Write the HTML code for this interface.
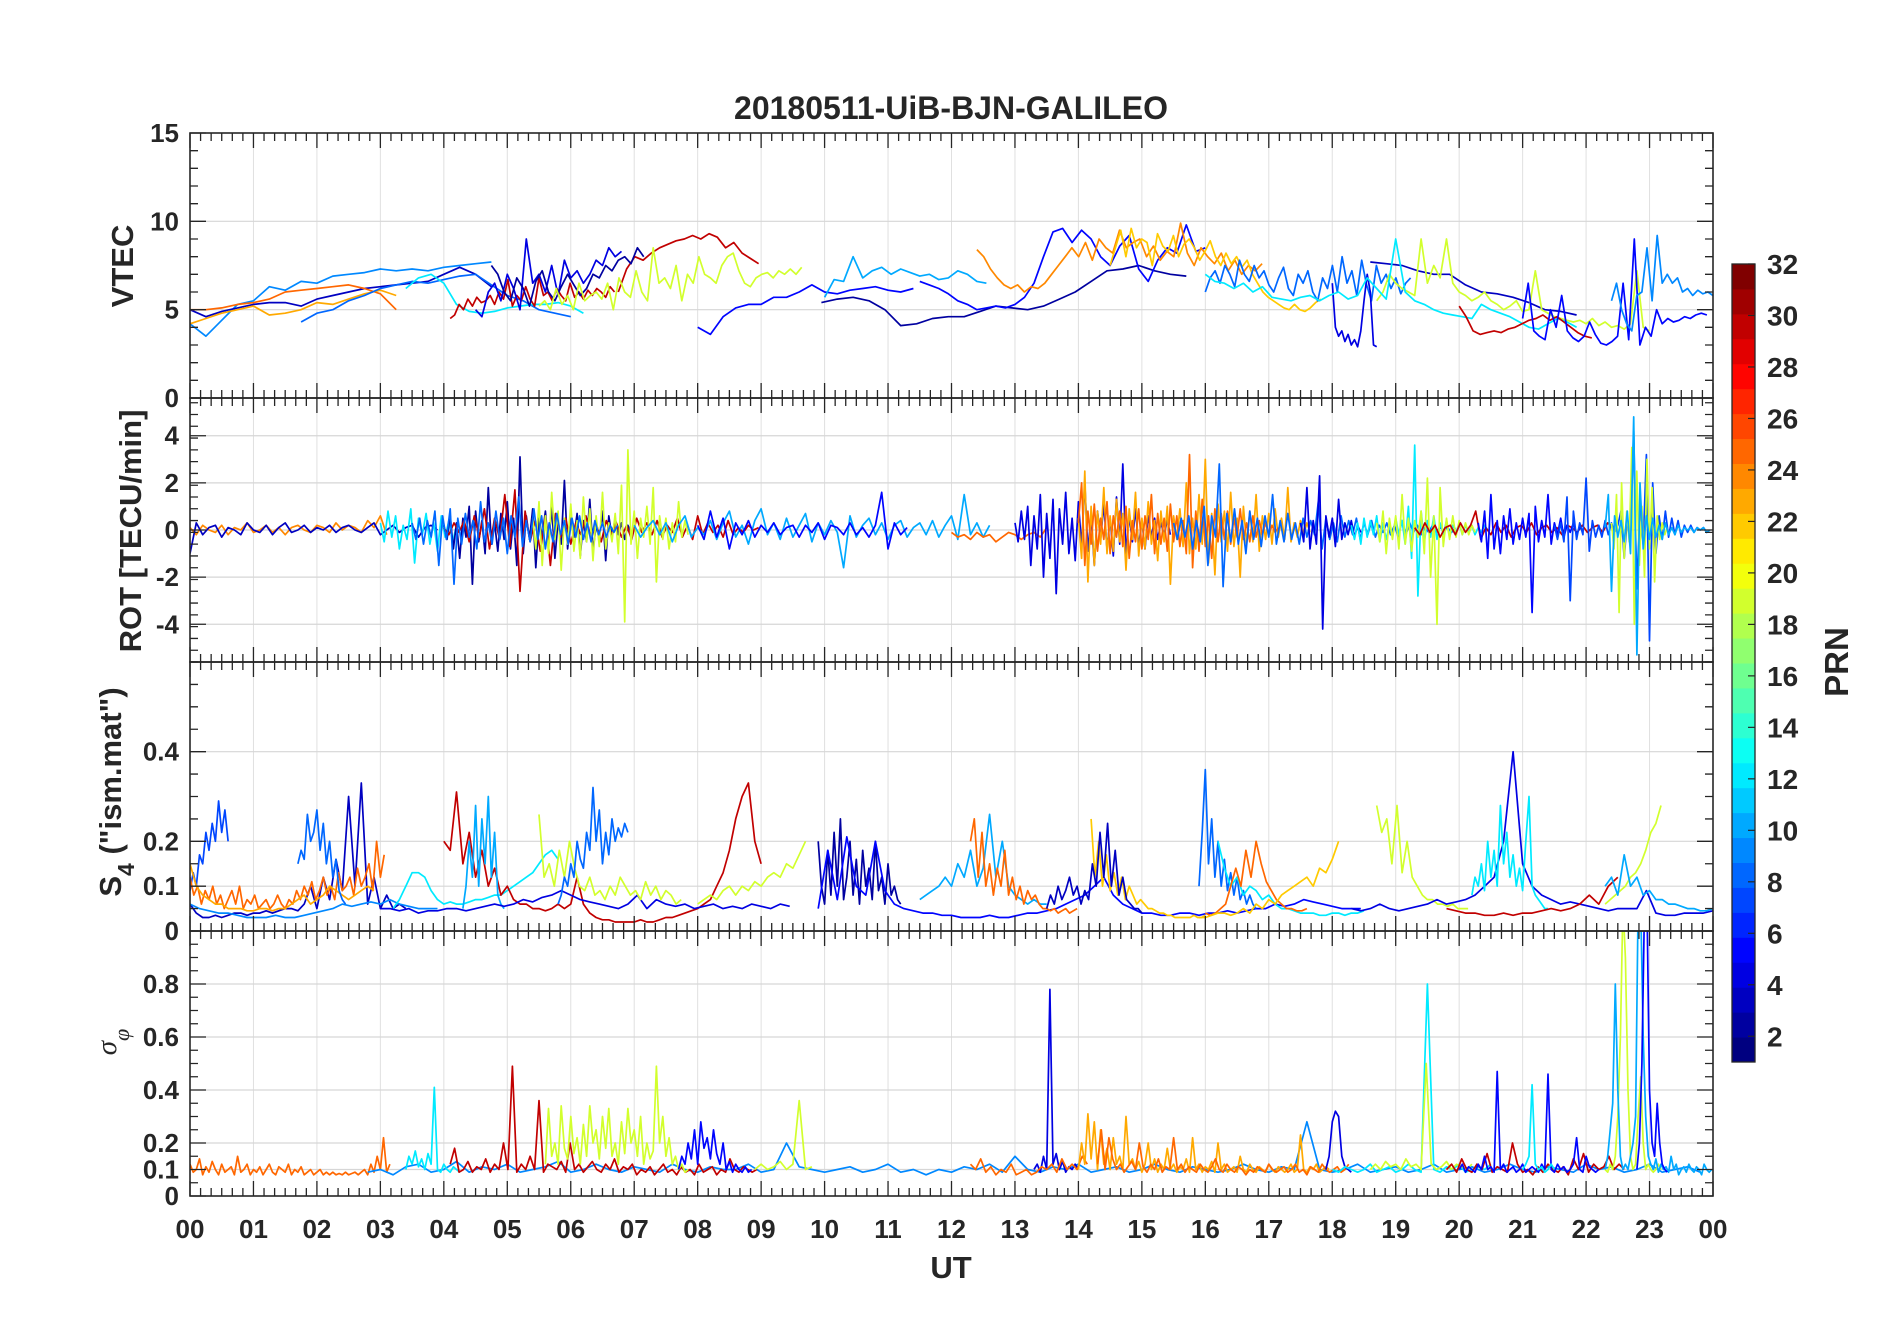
<!DOCTYPE html>
<html><head><meta charset="utf-8"><style>
html,body{margin:0;padding:0;background:#fff;}
svg{display:block;font-family:"Liberation Sans",Arial,sans-serif;}
.tk{font-size:26px;font-weight:bold;fill:#262626;}
.lb{font-size:31px;font-weight:bold;fill:#262626;}
</style></head><body>
<svg id="fig" width="1902" height="1330" viewBox="0 0 1902 1330" xmlns="http://www.w3.org/2000/svg">
<rect x="0" y="0" width="1902" height="1330" fill="#fff"/>
<text x="951" y="119" text-anchor="middle" class="lb" style="font-size:32px">20180511-UiB-BJN-GALILEO</text>
<text class="lb" transform="translate(133,266) rotate(-90)" text-anchor="middle">VTEC</text>
<text class="lb" transform="translate(141,531) rotate(-90)" text-anchor="middle">ROT [TECU/min]</text>
<text class="lb" transform="translate(121,792) rotate(-90)" text-anchor="middle">S<tspan baseline-shift="sub" font-size="23">4</tspan> ("ism.mat")</text>
<text transform="translate(116,1042) rotate(-90)" text-anchor="middle" style="font-family:'Liberation Serif',serif;font-style:italic;font-size:29px;fill:#262626">σ<tspan baseline-shift="sub" font-size="22">φ</tspan></text>
<text x="951" y="1278" text-anchor="middle" class="lb">UT</text>
<text class="lb" transform="translate(1848,662) rotate(-90)" text-anchor="middle" style="font-size:33px">PRN</text>
<g id="grid"></g><g id="series"></g><g id="axes"></g><g id="cbar"></g>
</svg>
<script>
// ---------- DATA ----------
const hourLabels=["00","01","02","03","04","05","06","07","08","09","10","11","12","13","14","15","16","17","18","19","20","21","22","23","00"];
const vtecTicks=[0,5,10,15];
const rotTicks=[-4,-2,0,2,4];
const s4Ticks=[0,0.1,0.2,0.4];
const sigTicks=[0,0.1,0.2,0.4,0.6,0.8];
const cbarTicks=[2,4,6,8,10,12,14,16,18,20,22,24,26,28,30,32];

const vtecPrn=[9,3,25,23,8,12,30,30,4,2,19,5,10,2,5,24,22,8,4,3,19,12,30,5,9];
const vtecStart=[0,0,0,0,1.75,3.4,4.1,6.75,4.5,4.75,5.5,8.0,10.0,9.95,11.5,12.4,14.5,16.0,18.0,18.6,18.7,16.0,20.0,21.0,22.4];
const vtecStep=[0.25,0.25,0.25,0.25,0.25,0.2,0.07,0.13,0.1,0.1,0.09,0.2,0.15,0.25,0.15,0.107,0.083,0.077,0.05,0.25,0.1,0.15,0.11,0.088,0.08];
const vtecVals=[
[4.2,3.5,4.4,5.3,5.5,6.3,6.1,6.6,6.5,6.9,7.0,7.1,7.3,7.2,7.3,7.2,7.4,7.5,7.6,7.7],
[5.0,4.6,4.9,5.1,5.3,5.4,5.4,5.2,5.6,5.8,6.0,6.2,6.3,6.4,6.5,6.6,7.0,7.4,7.0,6.3],
[5.0,5.0,5.1,5.3,5.4,5.6,6.0,6.1,6.2,6.3,6.4,6.2,5.9,5.0],
[4.2,4.5,4.8,5.0,5.2,4.7,4.8,5.0,5.4,5.3,5.6,5.9,6.1,5.8],
[4.3,4.8,5.0,5.5,5.8,6.2,6.4,6.6,6.5,6.7,6.9,7.0,6.4,5.8,5.5,5.0,4.8,4.6],
[6.2,6.8,7.0,6.5,5.3,4.9,4.8,4.9,5.1,5.2,5.3,5.3,5.4,5.2,4.8],
[4.5,4.7,5.3,5.0,5.6,5.2,5.7,5.4,5.5,5.8,5.3,6.0,5.6,6.7,5.2,5.8,5.5,6.3,5.6,5.2,6.8,5.8,6.0,5.5,6.2,5.8,5.5,6.5,5.7,6.0,5.6,6.1,5.8,6.2,6.0,5.7,6.3,6.0],
[6.0,7.3,8.0,7.8,8.2,8.5,8.7,8.9,9.0,9.2,9.0,9.3,9.1,8.5,8.8,8.2,7.9,7.6],
[5.0,4.6,6.0,6.5,5.5,7.0,6.2,5.0,9.0,6.5,7.0,6.0,7.5,5.8,7.8,6.8,7.2,6.5,7.0,7.8,7.5,8.5,8.0,8.3],
[7.5,7.0,6.0,5.5,6.8,6.2,5.2,6.6,7.2,6.0,5.5,6.3,7.0,6.4,5.8,6.2,7.0,6.8,7.5,7.2,7.8,8.0,7.6,8.5,8.0],
[5.2,5.5,5.0,6.2,5.3,5.8,5.0,6.5,5.5,5.8,6.0,5.6,6.5,5.0,6.8,6.0,5.7,7.2,6.0,5.5,8.5,6.5,6.8,6.2,7.5,5.5,7.0,6.5,8.0,7.0,6.8,6.5,7.5,8.0,8.2,7.2,6.5,6.3,6.8,7.0,7.1,6.8,7.2,7.0,7.3,7.0,7.4],
[4.0,3.6,4.6,5.1,5.3,5.3,5.7,5.7,6.0,6.4,6.0,5.9,6.1,6.2,6.3,6.1,6.0,6.2],
[5.7,6.7,6.6,8.0,6.8,7.2,7.4,7.0,7.3,7.1,6.9,7.0,6.7,6.8,7.2,7.0,6.6,6.5],
[5.4,5.6,5.7,5.5,5.0,4.1,4.2,4.5,4.6,4.6,4.9,5.2,5.1,5.0,5.2,5.6,6.0,6.6,7.2,7.3,7.5,7.2,7.0,6.9],
[6.6,6.4,6.2,5.9,5.5,5.3,5.0,5.1,5.2,5.1,5.3,5.7,6.5,8.0,9.4,9.6,8.8,9.5,9.0,8.0,7.5,8.6,9.2,7.3,6.6,7.8,8.5,8.2,9.8,8.3,8.5],
[8.4,8.0,7.3,6.8,6.4,6.2,6.4,6.0,6.3,6.2,6.5,7.0,7.5,8.0,8.5,8.0,8.8,7.8,9.0,8.5,8.2,9.5,8.5,8.8,9.0,8.0,8.6,7.8,8.3,8.0,9.9,8.2,7.5,8.5,8.0,7.6,8.2,7.2,7.8,7.0,7.5,7.2,7.6],
[7.5,8.5,9.5,8.0,9.6,8.5,9.0,8.8,7.5,9.3,8.6,8.3,9.2,8.0,8.7,9.0,8.5,7.8,8.3,8.9,8.0,7.5,8.2,7.6,8.0,7.4,7.8,7.0,6.5,6.0,5.7,5.5,5.3,5.1,5.0,5.3,5.0,4.9,5.1,5.4,5.6],
[6.0,6.8,7.2,6.5,7.5,7.0,6.3,7.8,7.0,6.6,7.5,6.8,7.2,6.4,6.0,6.8,7.4,6.2,5.8,7.0,6.5,7.2,6.0,5.5,6.8,6.2,7.5,6.0,8.0,6.5,7.2,5.8,7.8,6.4,5.5,7.5,6.5,7.0,6.2,6.8,5.9,6.5,6.8],
[6.5,4.0,3.5,3.8,3.2,3.6,3.0,3.3,2.9,3.8,5.5,7.0,6.0,3.0,2.9],
[7.7,7.6,7.5,7.2,7.0,7.0,6.4,6.0,5.9,5.7,5.4,5.0,4.9,4.7],
[5.5,6.0,7.0,6.5,6.2,6.0,5.8,9.0,6.5,7.5,6.8,9.0,6.5,6.0,5.8,5.5,5.7,6.0,5.5,5.3,5.0,5.2,5.5,4.9,5.0,7.2,5.0,4.8,4.6,4.5,4.4,4.3,4.4,4.2,4.5,4.1,4.3,4.0,4.1,3.9,4.2,7.2,4.0,3.8],
[7.0,6.6,6.5,6.2,6.5,6.0,6.3,5.7,5.6,5.5,5.7,5.8,5.5,5.8,6.0,5.6,5.8,6.8,6.2,5.6,9.0,6.0,5.5,5.3,5.0,4.8,4.7,4.6,4.5,5.3,5.0,4.8,4.6,4.3,4.0,3.9,4.2,4.5,4.3,4.0],
[5.2,4.6,3.8,3.6,3.7,3.8,3.7,3.9,4.0,4.2,4.4,4.5,4.7,4.4,4.6,4.3,4.0,3.7,3.5,3.4],
[4.5,6.5,3.8,3.5,3.3,5.0,4.0,5.8,3.8,3.4,3.2,3.5,4.3,3.6,3.1,3.0,3.2,3.5,6.5,3.3,9.0,3.0,4.0,3.5,5.0,4.2,4.5,4.3,4.4,4.6,4.5,4.7,4.8,4.7],
[5.5,6.5,5.0,4.2,3.8,5.8,6.0,8.5,5.5,9.2,6.5,7.0,6.5,6.8,6.0,6.2,5.8,6.1,5.9,6.0,5.8]
];

const rotPrn=[24,3,12,2,30,19,8,10,5,25,4,23,25,8,4,12,19,30,5,7,19,10];
const rotStart=[0,0,3.0,4.0,4.0,5.4,3.5,7.0,8.0,12.0,13.0,14.0,14.0,15.5,17.5,18.3,18.7,19.3,20.3,21.5,22.4,22.3];
const rotStep=[0.1,0.1,0.06,0.05,0.08,0.05,0.06,0.1,0.1,0.1,0.05,0.05,0.05,0.06,0.05,0.05,0.05,0.08,0.05,0.05,0.04,0.05];
const rotVals=[
[0.1,-0.2,0.2,0,-0.1,0.2,-0.2,0.1,0,0.3,-0.1,0,0.2,-0.1,0.1,-0.2,0.1,0.2,0,-0.1,0.2,0.1,-0.1,0.3,0,0.2,0.1,-0.1,0.4,0.1,0.6,-0.2],
[-1.0,0.3,-0.2,0.1,0.2,-0.3,0.1,0,-0.2,0.3,0,-0.1,0.2,-0.2,0.1,0.3,-0.1,0,0.2,-0.1,0.1,0,0.2,-0.1,0.1,0.2,0,-0.1,0.1,0.3,-0.2,0,0.2,-0.1,0.1,0.2,-0.3,0.1,0.2,0],
[0.3,-0.5,0.8,-0.3,0.6,-0.8,0.2,-0.4,0.9,-1.4,0.5,-0.2,0.7,-0.6,0.3,-0.9,0.6,-0.3,0.4,-0.5,0.2],
[0.2,-0.4,0.6,-0.8,0.3,-1.2,0.5,-0.3,1.0,-2.3,0.8,-0.5,0.4,-1.0,1.8,-0.6,0.3,-0.9,0.7,-0.4,1.2,-0.8,0.5,-1.5,3.1,-1.0,0.6,-0.4,0.9,-1.6,0.5,-0.3,0.8,-0.7,1.0,-1.2,0.4,-0.6,2.1,-0.8,0.5,-0.3,0.7,-1.1,0.4,-0.5,1.3,-0.9,0.2,-0.4,0.8,-1.3,0.6,-0.3,0.5,-0.2,0.3,-0.4,0.2,-0.1],
[0.1,-0.2,0.3,-0.1,0.4,-0.5,0.6,-0.3,0.9,-0.8,0.5,-0.4,1.5,-0.7,1.7,-2.6,0.8,-0.5,0.4,-0.9,0.6,-1.5,0.7,-0.3,0.5,-0.6,0.3,-0.2,0.6,-0.4,0.3,-0.5,0.4,-0.2,0.3,-0.3,0.2,-0.4,0.5,-0.1,0.3,-0.2,0.4,-0.3,0.2,-0.1,0.5,-0.3,0.2,-0.4,0.6,-0.2,0.3,-0.1,0.2,-0.3,0.4,-0.2,0.1,-0.1,0.2,0,0.1],
[0.5,-0.8,1.2,-1.5,0.6,-1.0,1.6,-0.4,0.8,-1.7,0.5,-0.6,1.1,-0.9,0.4,-1.2,1.4,-0.5,0.9,-1.3,0.6,-0.7,1.6,-0.8,0.3,-0.5,0.7,-1.0,1.9,-3.9,3.4,-0.6,0.8,-1.2,0.5,-0.3,1.0,-0.6,1.8,-2.2,0.6,-0.4,0.5,-0.8,0.3,-0.5,1.2,-0.3,0.4,-0.2],
[0.3,-0.4,0.5,-0.6,0.4,-0.3,0.8,-1.5,0.6,-0.4,0.9,-2.3,0.5,-0.6,0.7,-0.3,0.4,-0.8,1.2,-0.5,0.3,-0.6,0.8,-0.4,0.5,-1.0,0.6,-0.3,1.4,-0.7,0.4,-0.5,0.9,-0.4,0.6,-0.8,0.3,-0.5,0.7,-0.2,0.4,-0.6,0.5,-0.3,0.6,-0.4,0.3,-0.5,0.4,-0.2,0.3,-0.3,0.2,-0.1,0.2],
[0.2,-0.3,0.1,0.4,-0.2,0.3,-0.5,0.2,0.6,-0.3,0.1,-0.2,0.4,-0.4,0.3,0.8,-0.3,0.2,-0.6,0.4,0.9,-0.2,0.3,-0.4,0.5,-0.3,0.2,0.7,-0.5,0.3,-0.2,0.4,-0.1,-1.6,0.6,-0.3,0.2,0.5,-0.2,0.3,-0.4,0.2,0.4,-0.3,0.1,0.3,-0.2,0.4,-0.3,0.2,0.6,-0.4,1.5,-0.2,0.3,-0.3,0.2],
[0.2,-0.4,0.8,-0.3,0.5,-0.8,0.3,-0.2,0.4,-0.3,0.2,-0.1,0.3,-0.2,0.1,0.2,-0.3,0.2,-0.1,0.3,-0.4,0.2,0.1,-0.2,0.3,-0.2,0.1,-0.3,0.2,1.6,-0.8,0.3,-0.2,0.1],
[-0.1,-0.3,-0.2,-0.4,-0.1,-0.3,-0.2,-0.5,-0.3,-0.1,-0.2,-0.4,-0.2,-0.1,-0.3,0.1],
[0.3,-0.5,0.8,-0.4,1.0,-1.5,0.6,-0.8,1.5,-2.0,0.7,-1.2,1.3,-2.7,0.9,-0.6,1.6,-1.0,0.5,-1.3,1.2,-0.7,2.0,-0.9,0.6,-1.5,0.8,-0.4,1.1,-0.8,0.5,-1.1,1.4,-0.6,2.8,-1.0,0.6,-0.5,0.9,-0.7,0.4,-0.8,0.6,-0.3,0.5,-0.4,0.3,-0.2,0.4,-0.2],
[0.5,-1.2,2.5,-2.2,1.0,-1.5,0.8,-0.6,1.8,-1.0,0.6,-0.9,1.3,-0.5,0.7,-1.7,0.9,-0.4,1.6,-1.1,0.5,-0.8,1.2,-0.6,0.4,-1.3,0.8,-0.5,1.0,-2.3,0.6,-0.4,0.9,-0.7,2.0,-1.0,0.5,-0.8,1.5,-0.6,3.0,-1.4,0.7,-1.9,1.1,-0.5,0.8,-0.9,1.6,-0.7,0.5,-2.0,1.0,-0.6,0.8,-0.5,1.5,-0.9,0.6,-0.4,0.7,-0.6,0.9,-0.3,0.5,-0.4,1.8,-0.5,0.3,-0.3,0.4,-0.2,0.3,-0.1],
[0.3,2.0,-1.5,0.8,-0.6,1.1,-0.9,0.5,-0.4,1.2,-1.0,0.6,-0.3,0.8,-0.7,1.0,-1.2,0.4,-0.5,0.9,-0.8,0.6,-0.4,1.5,-1.0,0.7,-0.6,0.5,-0.9,1.1,-0.5,0.6,-0.7,0.4,-1.0,3.2,-1.6,0.8,-0.9,1.3,-0.7,0.6,-1.2,0.9,-0.5,0.7,-0.4,0.8,-0.6,0.5,-0.3,0.9,-0.4,0.3,-0.5,0.6,-0.3,0.4,-0.2,0.3,-0.2,0.2,-0.1,0.1],
[0.3,-0.4,0.5,-0.3,0.6,-0.8,0.4,-0.5,1.0,-1.5,0.6,-0.3,2.8,-2.4,0.7,-0.5,0.9,-0.6,0.4,-1.0,0.8,-0.4,0.5,-0.7,0.6,-0.3,1.5,-0.6,0.4,-0.5,0.7,-0.4,0.3,-0.6,0.5,-0.3,0.4,-0.2,1.2,-0.8,0.5,-0.4,0.3,-0.5,0.6,-0.3,0.4,-0.2,0.5,-0.4,0.3,-0.2,0.4,-0.3,0.2,-0.1,0.3,-0.2,0.2,-0.3,0.4,-0.2,0.3,-0.1,0.2,-0.2,0.1,-0.1,0.2,-0.1,0.1,0,0.1,-0.1,0.1],
[0.3,-0.5,1.8,-0.8,0.4,-0.6,2.3,-4.2,0.6,-0.3,0.5,-0.7,1.3,-0.4,0.3,-0.2,0.4,-0.3,0.2,-0.1],
[0.2,-0.4,0.3,-0.6,0.5,-0.3,0.4,-0.2,0.6,-0.5,0.3,-0.4,0.2,-0.3,0.5,-0.2,0.4,-0.6,1.0,-1.2,3.6,-2.8,0.8,-0.5,0.4,-0.3,0.6,-0.4,0.3,-0.2,0.4,-0.3,0.2,-0.1,0.3,-0.2,0.2,-0.1,0.2,-0.2,0.1,-0.1,0.2,0],
[0.3,-0.5,0.8,-1.0,0.5,-0.4,0.6,-0.8,1.5,-0.6,0.5,-0.9,0.4,-0.3,0.8,-1.0,2.2,-2.0,0.6,-4.0,1.8,-0.7,0.5,-0.4,0.6,-0.3,0.4,-0.2,0.3,-0.2,0.2,-0.1],
[0.1,-0.2,0.3,-0.1,0.2,-0.3,0.1,0.2,-0.2,0.3,-0.1,0.2,0.8,-0.4,0.1,-0.2,0.3,-0.1,0.2,-0.3,0.1,0.2,-0.1,0.3,-0.2,0.1,0.2,-0.1,0.1,-0.2,0.2,0.1,-0.1,0.2,-0.1,0.1,0.2,-0.1,0.3,0.1],
[0.3,-0.5,0.8,-1.2,1.5,-0.8,0.4,-1.0,0.6,-0.4,0.9,-0.6,0.3,-0.4,0.5,-0.3,0.7,-3.5,1.0,-0.5,0.4,-0.3,1.5,-0.6,0.3,-0.2,0.5,-0.3,0.2,-0.1,0.3,-0.2,0.1,0],
[0.2,-0.4,0.3,-0.5,1.4,-3.0,0.8,-0.4,0.3,-0.2,2.2,-0.9,0.4,-0.3,0.2,-0.3,0.4,-0.2,0.3,-0.1,0.2,0.8,-1.2,0.5,-0.3,4.2,-2.5,1.0,-0.6,3.2,-4.7,2.0,-1.0,0.6,-0.4,0.8,-0.3,0.5,-0.2,0.4,-0.3,0.2,-0.1,0.2,-0.1,0.1,0,0.1,-0.1,0],
[0.3,-0.8,1.5,-3.5,2.0,-1.2,0.8,-0.5,3.5,-4.0,2.5,-1.5,1.0,-2.0,3.0,-0.8,1.8,-2.2,0.6,-0.4,0.3,-0.2,0.1],
[0.1,1.5,-2.6,0.6,-0.3,0.4,-0.5,0.8,-1.0,4.8,-5.3,2.0,-0.8,0.6,-0.4,0.5,-0.3,0.2,-0.4,0.3,-0.2,0.1,-0.2,0.2,-0.1,0.1,0,0.1,-0.1,0.1,0,0.1,-0.1,0]
];

const s4Prn=[3,7,25,23,9,8,12,30,10,4,19,8,19,2,5,10,25,22,3,8,12,25,22,19,4,12,30,19,10];
const s4Start=[0,0,0,0,0,1.7,3.2,4.0,4.3,3.0,5.5,5.8,8.0,9.9,9.9,11.5,12.3,14.2,13.5,15.9,16.2,16.0,15.9,18.7,18.3,20.2,19.8,22.3,22.3];
const s4Step=[0.1,0.05,0.06,0.1,0.15,0.05,0.1,0.1,0.05,0.15,0.08,0.05,0.1,0.05,0.15,0.1,0.06,0.06,0.06,0.05,0.1,0.08,0.1,0.08,0.15,0.05,0.15,0.08,0.1];
const s4Vals=[
[0.06,0.04,0.03,0.03,0.035,0.03,0.035,0.04,0.04,0.035,0.04,0.04,0.045,0.04,0.045,0.05,0.05,0.045,0.06,0.1,0.05,0.12,0.07,0.16,0.09,0.3,0.1,0.33,0.06,0.12,0.05,0.08,0.05,0.06,0.05],
[0.09,0.13,0.1,0.17,0.15,0.22,0.18,0.24,0.2,0.29,0.22,0.27,0.2],
[0.12,0.08,0.1,0.06,0.09,0.07,0.1,0.06,0.08,0.05,0.07,0.09,0.06,0.1,0.05,0.07,0.06,0.08,0.05,0.06,0.07,0.05,0.06,0.08,0.06,0.05,0.07,0.06,0.09,0.07,0.1,0.08,0.11,0.07,0.09,0.12,0.08,0.1,0.07,0.13,0.09,0.1,0.12,0.08,0.14,0.1,0.12,0.15,0.09,0.2,0.12,0.17],
[0.15,0.1,0.08,0.07,0.06,0.06,0.05,0.05,0.05,0.045,0.045,0.05,0.05,0.045,0.05,0.05,0.06,0.07,0.08,0.06,0.07,0.08,0.1,0.09,0.08,0.07,0.08,0.09,0.1,0.09],
[0.06,0.05,0.045,0.04,0.04,0.035,0.03,0.03,0.03,0.035,0.03,0.03,0.035,0.04,0.045,0.05,0.06,0.055,0.06,0.065,0.06,0.07,0.06,0.055,0.05,0.05,0.05],
[0.15,0.18,0.16,0.26,0.2,0.22,0.27,0.18,0.24,0.15,0.2,0.12,0.16,0.09,0.07,0.06],
[0.05,0.07,0.1,0.13,0.13,0.12,0.09,0.07,0.06,0.065,0.06,0.06,0.065,0.07,0.07,0.075,0.08,0.08,0.09,0.1,0.11,0.12,0.13,0.15,0.17,0.18,0.16],
[0.2,0.18,0.31,0.15,0.22,0.12,0.18,0.1,0.14,0.08,0.1,0.07,0.06,0.06,0.05,0.05,0.045,0.05,0.06,0.05,0.06,0.12,0.06,0.04,0.03,0.025,0.025,0.02,0.02,0.02,0.02,0.025,0.02,0.02,0.025,0.03,0.03,0.035,0.04,0.045,0.05,0.06,0.07,0.1,0.13,0.18,0.25,0.3,0.33,0.2,0.15],
[0.05,0.1,0.2,0.12,0.28,0.1,0.25,0.15,0.3,0.12,0.22,0.08,0.06,0.05],
[0.05,0.05,0.045,0.05,0.04,0.045,0.045,0.05,0.05,0.045,0.05,0.055,0.06,0.055,0.06,0.07,0.065,0.075,0.08,0.09,0.08,0.07,0.065,0.06,0.055,0.05,0.06,0.08,0.05,0.07,0.06,0.055,0.06,0.05,0.055,0.06,0.05,0.055,0.05,0.06,0.055,0.05,0.06,0.055],
[0.26,0.12,0.15,0.1,0.18,0.12,0.2,0.14,0.1,0.09,0.12,0.08,0.09,0.07,0.1,0.08,0.12,0.1,0.08,0.09,0.07,0.11,0.08,0.1,0.07,0.09,0.08,0.06,0.07],
[0.06,0.08,0.12,0.1,0.15,0.12,0.2,0.16,0.14,0.22,0.18,0.32,0.2,0.27,0.15,0.22,0.17,0.25,0.2,0.23,0.21,0.24,0.22],
[0.06,0.07,0.08,0.07,0.09,0.1,0.08,0.1,0.09,0.11,0.1,0.12,0.13,0.12,0.15,0.14,0.17,0.2],
[0.2,0.1,0.06,0.18,0.08,0.22,0.1,0.25,0.07,0.12,0.2,0.08,0.16,0.06,0.18,0.1,0.14,0.07,0.2,0.09,0.12,0.06,0.15,0.08,0.1,0.07,0.06],
[0.05,0.18,0.07,0.21,0.1,0.08,0.2,0.09,0.06,0.05,0.045,0.04,0.04,0.035,0.035,0.03,0.03,0.03,0.035,0.03,0.03,0.035,0.04,0.04,0.045,0.05,0.06,0.07,0.08,0.1,0.12,0.08,0.06,0.05,0.04,0.04,0.035,0.035,0.04,0.04,0.035,0.04,0.04,0.045,0.04,0.045,0.05,0.05,0.06,0.055,0.06,0.07,0.065,0.06,0.055,0.05,0.05,0.05],
[0.07,0.08,0.09,0.1,0.12,0.1,0.15,0.12,0.18,0.1,0.14,0.26,0.12,0.2,0.1,0.08,0.07,0.06,0.07,0.06,0.06],
[0.2,0.25,0.12,0.22,0.1,0.15,0.08,0.14,0.1,0.18,0.08,0.12,0.07,0.1,0.06,0.09,0.07,0.08,0.06,0.05,0.05,0.045,0.05,0.04,0.045,0.05,0.04,0.045,0.05],
[0.25,0.12,0.2,0.1,0.17,0.09,0.13,0.08,0.12,0.07,0.1,0.08,0.06,0.07,0.06,0.05,0.05,0.045,0.04,0.04,0.035,0.035,0.03,0.03,0.03,0.03,0.03,0.035,0.03,0.03,0.035],
[0.05,0.08,0.06,0.1,0.07,0.09,0.12,0.08,0.1,0.06,0.09,0.07,0.15,0.1,0.22,0.12,0.24,0.1,0.18,0.08,0.12,0.07,0.06,0.05,0.05,0.04],
[0.1,0.22,0.36,0.15,0.25,0.12,0.2,0.1,0.16,0.09,0.13,0.08,0.12,0.07,0.09,0.06,0.08,0.06,0.05],
[0.2,0.14,0.1,0.12,0.08,0.1,0.09,0.07,0.08,0.06,0.05,0.05,0.045,0.04,0.04,0.04,0.035,0.035,0.04,0.04,0.035,0.04,0.04,0.045],
[0.04,0.035,0.04,0.05,0.06,0.1,0.14,0.1,0.18,0.12,0.2,0.15,0.11,0.09,0.07,0.06,0.05,0.05,0.045,0.045,0.05],
[0.03,0.03,0.035,0.04,0.04,0.035,0.04,0.05,0.04,0.06,0.05,0.07,0.06,0.08,0.09,0.1,0.11,0.12,0.1,0.14,0.13,0.16,0.2],
[0.28,0.22,0.25,0.15,0.28,0.13,0.2,0.12,0.1,0.08,0.07,0.07,0.06,0.06,0.055,0.06,0.05,0.05,0.05],
[0.05,0.045,0.05,0.06,0.05,0.045,0.05,0.055,0.06,0.07,0.06,0.065,0.07,0.08,0.1,0.12,0.2,0.4,0.15,0.1,0.08,0.07,0.06,0.065,0.06,0.055,0.05,0.045,0.05,0.05,0.05,0.09,0.04,0.035,0.035,0.04,0.04,0.04,0.045],
[0.08,0.12,0.1,0.15,0.09,0.2,0.12,0.18,0.1,0.28,0.15,0.22,0.12,0.17,0.1,0.14,0.09,0.2,0.3,0.1,0.08,0.07,0.06,0.05,0.05],
[0.05,0.045,0.04,0.04,0.035,0.035,0.04,0.035,0.04,0.04,0.045,0.05,0.045,0.05,0.06,0.08,0.06,0.1,0.12],
[0.06,0.07,0.08,0.09,0.1,0.12,0.13,0.15,0.18,0.22,0.24,0.28],
[0.1,0.12,0.08,0.17,0.1,0.12,0.08,0.09,0.07,0.07,0.06,0.06,0.055,0.05,0.05,0.045,0.045,0.05]
];

const sigPrn=[25,9,12,30,19,5,19,4,25,23,25,4,12,19,30,5,12,19,10,5];
const sigStart=[0,2.8,3.4,4.1,5.6,7.7,8.9,13.3,12.3,14.0,14.3,17.9,18.0,18.6,19.8,20.0,21.0,22.3,22.3,22.8];
const sigStep=[0.05,0.2,0.05,0.07,0.05,0.05,0.1,0.05,0.08,0.05,0.06,0.05,0.1,0.08,0.08,0.05,0.05,0.04,0.04,0.04];
const sigVals=[
[0.12,0.09,0.1,0.14,0.08,0.11,0.09,0.13,0.1,0.08,0.12,0.09,0.1,0.11,0.08,0.15,0.09,0.1,0.12,0.08,0.1,0.09,0.11,0.08,0.1,0.12,0.09,0.08,0.11,0.1,0.09,0.12,0.08,0.1,0.09,0.11,0.08,0.09,0.1,0.08,0.09,0.1,0.08,0.09,0.08,0.09,0.08,0.085,0.08,0.09,0.08,0.085,0.09,0.08,0.09,0.1,0.08,0.12,0.09,0.15,0.1,0.22,0.09,0.12],
[0.09,0.1,0.08,0.11,0.12,0.09,0.1,0.13,0.09,0.11,0.1,0.12,0.09,0.1,0.11,0.13,0.09,0.1,0.12,0.1,0.09,0.11,0.1,0.09,0.12,0.1,0.09,0.11,0.1,0.1,0.12,0.09,0.1,0.2,0.11,0.1,0.09,0.1,0.11,0.09,0.1,0.12,0.09,0.1,0.08,0.1,0.09,0.11,0.1,0.12,0.09,0.15,0.1,0.09,0.11,0.1,0.12,0.09,0.1,0.11,0.09,0.1,0.12,0.1,0.09,0.11,0.1,0.09,0.1,0.12,0.1,0.09,0.11,0.1,0.28,0.1,0.09,0.1,0.12,0.09,0.1,0.11,0.09,0.1,0.12,0.09,0.1,0.11,0.09,0.1,0.12,0.1,0.09,0.11,0.1,0.09,0.12,0.1,0.11,0.09,0.1,0.12,0.09,0.1,0.11,0.09],
[0.1,0.15,0.12,0.17,0.11,0.14,0.1,0.16,0.12,0.41,0.1,0.09,0.12,0.1,0.09,0.11,0.1,0.09],
[0.12,0.18,0.09,0.1,0.13,0.09,0.11,0.1,0.14,0.09,0.12,0.1,0.2,0.1,0.49,0.09,0.12,0.1,0.15,0.1,0.36,0.09,0.12,0.11,0.1,0.13,0.09,0.2,0.1,0.12,0.09,0.11,0.13,0.1,0.09,0.12,0.1,0.14,0.09,0.11,0.1,0.12,0.08,0.1,0.09,0.11,0.08,0.1,0.12,0.09,0.1,0.08,0.11,0.09,0.1,0.08,0.12,0.09,0.1,0.11,0.08,0.1,0.09,0.14,0.1,0.09,0.11,0.1,0.09,0.1],
[0.12,0.33,0.15,0.2,0.12,0.34,0.18,0.14,0.3,0.16,0.22,0.12,0.27,0.15,0.34,0.2,0.25,0.14,0.3,0.18,0.33,0.15,0.2,0.12,0.28,0.16,0.33,0.2,0.25,0.15,0.3,0.12,0.2,0.14,0.17,0.49,0.2,0.3,0.15,0.22,0.12,0.15,0.1,0.12,0.09,0.1],
[0.1,0.15,0.12,0.2,0.14,0.25,0.12,0.28,0.18,0.22,0.14,0.25,0.16,0.12,0.2,0.1,0.13,0.09,0.12,0.1,0.09,0.11,0.09,0.1],
[0.1,0.12,0.1,0.11,0.13,0.1,0.12,0.36,0.1,0.11],
[0.1,0.12,0.09,0.15,0.1,0.78,0.12,0.16,0.1,0.13,0.09,0.11,0.1,0.12,0.1],
[0.12,0.1,0.14,0.09,0.11,0.08,0.1,0.09,0.12,0.08,0.09,0.1,0.08,0.09,0.11,0.1,0.12,0.09,0.14,0.1,0.12,0.1,0.15,0.12],
[0.1,0.2,0.12,0.31,0.14,0.28,0.1,0.25,0.12,0.18,0.1,0.22,0.12,0.15,0.1,0.3,0.12,0.14,0.1,0.13,0.09,0.12,0.2,0.1,0.14,0.09,0.12,0.1,0.18,0.1,0.12,0.09,0.11,0.1,0.14,0.09,0.22,0.1,0.12,0.09,0.11,0.1,0.13,0.09,0.2,0.1,0.12,0.09,0.1,0.11,0.09,0.15,0.1,0.09,0.12,0.1,0.09,0.11,0.1,0.09,0.12,0.1,0.09,0.11,0.1,0.09,0.1,0.12,0.09,0.1,0.23,0.1,0.09,0.11,0.1,0.12,0.09,0.1,0.11,0.1],
[0.12,0.25,0.1,0.22,0.14,0.1,0.12,0.09,0.11,0.13,0.1,0.2,0.11,0.09,0.12,0.1,0.14,0.09,0.11,0.1,0.22,0.1,0.12,0.09,0.11,0.1,0.09,0.12,0.1,0.09,0.11,0.14,0.1,0.09,0.12,0.1,0.09,0.11,0.1,0.08,0.1,0.09,0.11,0.1,0.09,0.12,0.1,0.09,0.1,0.11,0.09,0.1,0.12,0.09,0.1,0.08,0.11,0.1,0.09,0.12,0.1,0.09,0.1,0.11,0.09,0.1,0.12],
[0.1,0.15,0.28,0.32,0.3,0.15,0.11,0.1,0.09],
[0.1,0.09,0.11,0.1,0.09,0.1,0.12,0.09,0.1,0.11,0.09,0.1,0.12,0.1,0.09,0.8,0.1,0.09,0.11,0.1,0.12,0.09,0.1,0.11,0.1,0.12],
[0.1,0.12,0.1,0.13,0.11,0.12,0.1,0.14,0.11,0.12,0.1,0.5,0.12,0.1,0.11,0.13,0.1,0.12,0.11,0.1,0.12],
[0.1,0.12,0.09,0.14,0.1,0.09,0.12,0.1,0.16,0.09,0.11,0.1,0.09,0.2,0.12,0.09,0.1,0.08,0.11,0.09,0.12,0.1,0.09,0.11,0.08,0.14,0.1,0.16,0.09,0.12,0.1,0.11,0.15,0.1,0.12,0.1],
[0.1,0.12,0.09,0.11,0.1,0.09,0.12,0.1,0.15,0.1,0.11,0.09,0.47,0.1,0.12,0.09,0.1,0.11,0.09,0.1,0.12,0.09,0.1,0.11,0.1,0.09,0.12,0.1,0.46,0.1,0.09,0.12,0.1,0.11,0.09,0.1,0.12,0.22,0.1,0.09,0.15,0.11,0.1,0.09,0.1],
[0.1,0.12,0.15,0.42,0.12,0.1,0.11,0.09,0.1,0.12,0.1],
[0.1,0.09,0.12,0.1,0.15,0.3,0.6,1.1,0.9,0.4,0.15,0.1,0.12,0.3,0.45,0.2,0.1,0.12,0.1,0.09,0.1,0.12,0.1],
[0.1,0.15,0.25,0.35,0.8,0.4,0.15,0.1,0.12,0.1,0.15,0.2,0.3,1.1,1.1,0.6,0.3,0.15,0.12,0.1,0.14,0.09,0.12,0.1,0.11,0.09,0.15,0.1,0.12,0.08,0.1,0.11,0.09,0.12,0.1,0.09,0.11,0.1,0.08,0.12,0.1,0.09,0.1],
[0.1,0.2,0.5,1.1,1.1,0.4,0.2,0.15,0.35,0.2,0.12,0.1,0.09]
];

// ---------- RENDER ----------
const NS="http://www.w3.org/2000/svg";
const X0=190,X1=1713;
function xS(h){return X0+h*(X1-X0)/24;}
const panels=[
 {name:'vtec',top:133,bot:398,min:0,max:15,ticks:vtecTicks,minor:1,prn:vtecPrn,start:vtecStart,step:vtecStep,vals:vtecVals},
 {name:'rot',top:398,bot:662,min:-5.6,max:5.6,ticks:rotTicks,minor:0.5,prn:rotPrn,start:rotStart,step:rotStep,vals:rotVals},
 {name:'s4',top:662,bot:931,min:0,max:0.6,ticks:s4Ticks,minor:0.05,prn:s4Prn,start:s4Start,step:s4Step,vals:s4Vals},
 {name:'sigma',top:931,bot:1196,min:0,max:1,ticks:sigTicks,minor:0.05,prn:sigPrn,start:sigStart,step:sigStep,vals:sigVals}
];
function jet(p){const v=(p-1)/31;const c=t=>Math.round(255*Math.max(0,Math.min(1,1.5-Math.abs(4*v-t))));return `rgb(${c(3)},${c(2)},${c(1)})`;}
function mk(tag,attrs,parent){const e=document.createElementNS(NS,tag);for(const k in attrs)e.setAttribute(k,attrs[k]);parent.appendChild(e);return e;}
const G=document.getElementById('grid'),S=document.getElementById('series'),A=document.getElementById('axes'),CB=document.getElementById('cbar');
const defs=mk('defs',{},document.getElementById('fig'));
panels.forEach((p,pi)=>{
 const yS=v=>p.bot-(v-p.min)/(p.max-p.min)*(p.bot-p.top);
 for(let h=1;h<24;h++){const l=mk('line',{x1:xS(h),x2:xS(h),y1:p.top,y2:p.bot,stroke:'#e0e0e0','stroke-width':1},G);
  
  }
 p.ticks.forEach(t=>{if(Math.abs(yS(t)-p.top)>1&&Math.abs(yS(t)-p.bot)>1){const l=mk('line',{x1:X0,x2:X1,y1:yS(t),y2:yS(t),stroke:'#d6d6d6','stroke-width':1.2},G);
  
  }});
 const cp=mk('clipPath',{id:'clip'+pi},defs);mk('rect',{x:X0,y:p.top,width:X1-X0,height:p.bot-p.top},cp);
 const g=mk('g',{'clip-path':'url(#clip'+pi+')'},S);
 
 
 p.vals.forEach((arr,i)=>{
  const pts=arr.map((v,k)=>xS(p.start[i]+k*p.step[i]).toFixed(1)+','+yS(v).toFixed(1)).join(' ');
  const pl=mk('polyline',{points:pts,fill:'none',stroke:jet(p.prn[i]),'stroke-width':1.7,'stroke-linejoin':'round'},g);
  
  
 });
 const bx=mk('rect',{x:X0,y:p.top,width:X1-X0,height:p.bot-p.top,fill:'none',stroke:'#262626','stroke-width':1.6},A);
 
 
 let d='';
 for(let k=0;k<=144;k++){const x=xS(k/6);const L=(k%6===0)?15:8;d+=`M${x},${p.bot}v${-L}M${x},${p.top}v${L}`;}
 for(let v=p.min;v<=p.max+1e-9;v+=p.minor){const y=yS(v);const maj=p.ticks.some(t=>Math.abs(t-v)<1e-6);const L=maj?16:8;d+=`M${X0},${y}h${L}M${X1},${y}h${-L}`;}
 p.ticks.forEach(t=>{const y=yS(t);d+=`M${X0},${y}h16M${X1},${y}h-16`;});
 const tk=mk('path',{d:d,stroke:'#262626','stroke-width':1.3,fill:'none'},A);
 
 
 p.ticks.forEach(t=>{
  const tx=mk('text',{x:179,y:yS(t)+9,'text-anchor':'end',class:'tk'},A);tx.textContent=String(t);
  
  
 });
});
hourLabels.forEach((s,i)=>{const t=mk('text',{x:xS(i),y:1238,'text-anchor':'middle',class:'tk'},A);t.textContent=s;
 
 });
const CX=1732,CW=23,CT=264,CBt=1062;
for(let i=0;i<32;i++){const h=(CBt-CT)/32;const r=mk('rect',{x:CX,y:CBt-(i+1)*h,width:CW,height:h+0.5,fill:jet(i+1)},CB);
 
 }
const cbb=mk('rect',{x:CX,y:CT,width:CW,height:CBt-CT,fill:'none',stroke:'#262626','stroke-width':1.3},CB);


cbarTicks.forEach(v=>{const y=CBt-(v-1)/31*(CBt-CT);
 const l=mk('line',{x1:CX+CW-7,x2:CX+CW,y1:y,y2:y,stroke:'#262626','stroke-width':1.2},CB);
 
 
 const t=mk('text',{x:1767,y:y+10,class:'tk',style:'font-size:28px'},CB);t.textContent=String(v);
 
 });
</script>
</body></html>
